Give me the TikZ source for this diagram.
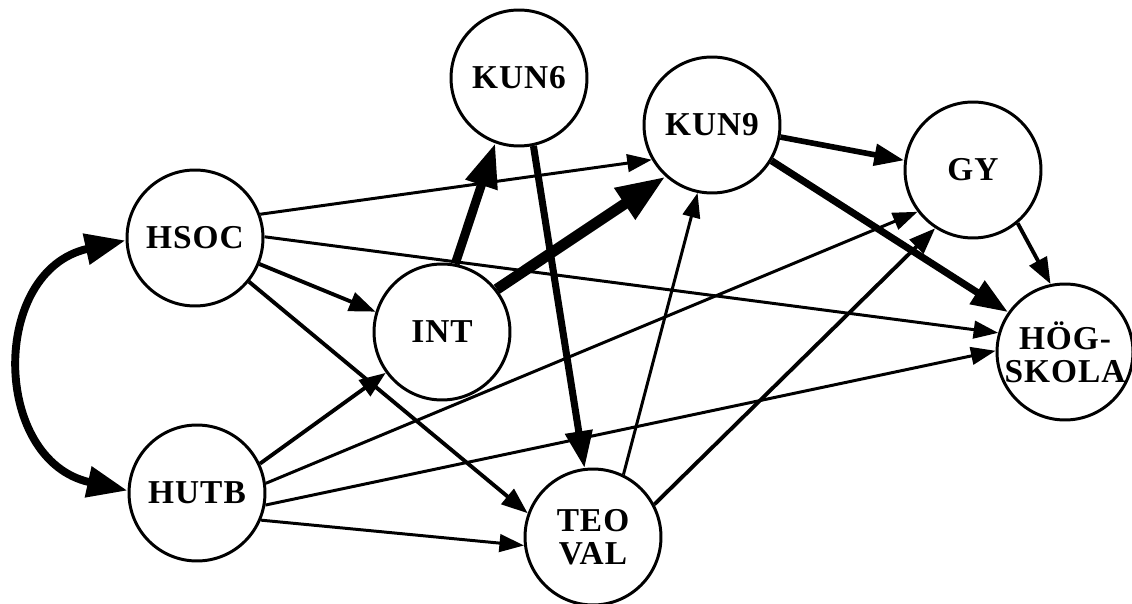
\documentclass[tikz,border=0pt]{standalone}
\usepackage{fontspec}
\setmainfont{Liberation Serif}[LetterSpace=3]
\usetikzlibrary{arrows.meta}
\begin{document}
\begin{tikzpicture}[x=0.02cm,y=-0.02cm,
  var/.style={circle,draw,line width=1.7pt,minimum size=2.72cm,inner sep=0pt,
    align=center,font=\bfseries\fontsize{19}{19}\selectfont},
  thinarr/.style={line width=1.7pt,-{Triangle[length=14pt,width=10pt]}},
  midarr/.style={line width=2.2pt,-{Triangle[length=15pt,width=11pt]}},
  boldarr/.style={line width=3.2pt,-{Triangle[length=17pt,width=12pt]}},
  heavyarr/.style={line width=4pt,-{Triangle[length=21pt,width=15pt]}},
  widearr/.style={line width=5.1pt,-{Triangle[length=25pt,width=18pt]}},
  hugearr/.style={line width=6.2pt,-{Triangle[length=28pt,width=20pt]}},
  corr/.style={line width=4.5pt,{Triangle[length=23pt,width=17pt]}-{Triangle[length=23pt,width=17pt]}}
]
\useasboundingbox (0,0) rectangle (1132,604);
\fill[white] (0,0) rectangle (1132,604);

% variables
\node[var] (hsoc) at (195,238) {HSOC};
\node[var] (hutb) at (197,493) {HUTB};
\node[var] (int)  at (442,332) {INT};
\node[var] (kun6) at (519,78)  {KUN6};
\node[var] (kun9) at (712,125) {KUN9};
\node[var] (gy)   at (973,170) {GY};
\node[var] (hog)  at (1065,352) {HÖG-\\SKOLA};
\node[var] (teo)  at (593,537) {TEO\\VAL};

% correlation between the background variables
\draw[corr] (hsoc.182) .. controls +(-136,30) and +(-136,-30) .. (hutb.178);

% paths from HSOC
\draw[thinarr] (hsoc.20) -- (kun9.210);
\draw[thinarr] (hsoc.1) -- (hog.164);
\draw[midarr] (hsoc.-22) -- (int.163);
\draw[midarr] (hsoc.-39) -- (teo.160);

% paths from HUTB
\draw[midarr] (hutb.25) -- (int.216);
\draw[thinarr] (hutb.8) -- (gy.217);
\draw[thinarr] (hutb.-10) -- (hog.179);
\draw[thinarr] (hutb.-23) -- (teo.187);

% paths from INT
\draw[widearr] (int.79) -- (kun6.250);
\draw[hugearr] (int.38) -- (kun9.228);

% path from KUN6
\draw[heavyarr] (kun6.-78) -- (teo.97);

% paths from KUN9
\draw[boldarr] (kun9.-10) -- (gy.172);
\draw[heavyarr] (kun9.-31) -- (hog.145);

% paths from TEOVAL
\draw[thinarr] (teo.64) -- (kun9.-102);
\draw[midarr] (teo.28) -- (gy.237);

% path from GY
\draw[midarr] (gy.-50) -- (hog.102);
\end{tikzpicture}
\end{document}
